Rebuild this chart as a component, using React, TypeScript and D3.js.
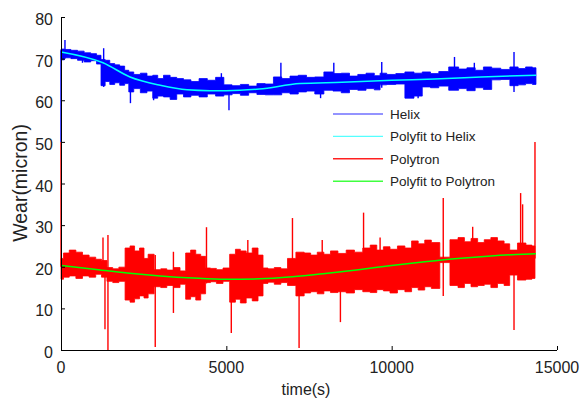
import React from 'react';
import * as d3 from 'd3';

const xTicks = [0, 5000, 10000, 15000];
const yTicks = [0, 10, 20, 30, 40, 50, 60, 70, 80];
const legendLabels = ['Helix', 'Polyfit to Helix', 'Polytron', 'Polyfit to Polytron'];
const seriesColors = ['#0000ff', '#00ffff', '#ff0000', '#00ff00'];
const legendColors = ['#6f6fff', '#55ffff', '#ff2020', '#40ff40'];

// Helix: noise envelope [time, low, high]
const helixBand = [
  [0, 69.7, 72.3], [200, 70.2, 72.2], [400, 70.0, 72.0], [600, 69.6, 71.8], [800, 69.2, 71.4],
  [1000, 69.5, 71.2], [1150, 68.7, 70.8], [1270, 63.5, 69.8], [1400, 64.5, 69.6], [1550, 63.8, 68.8],
  [1700, 64.2, 68.5], [1850, 63.6, 68.2], [2000, 64.0, 67.2], [2100, 62.0, 66.8], [2300, 62.8, 66.2],
  [2500, 61.8, 66.5], [2700, 62.2, 65.8], [2850, 60.5, 66.0], [3000, 61.0, 65.2], [3200, 60.8, 66.0],
  [3400, 60.2, 65.5], [3600, 61.5, 65.2], [3810, 60.8, 64.9], [4050, 61.2, 64.5], [4300, 60.8, 65.2],
  [4550, 61.5, 64.8], [4800, 61.0, 65.5], [5050, 61.3, 63.7], [5300, 61.6, 63.5], [5550, 61.2, 63.8],
  [5800, 61.8, 63.4], [6050, 61.4, 64.0], [6300, 61.3, 63.9], [6550, 61.3, 65.6], [6800, 61.8, 65.2],
  [7050, 61.5, 65.8], [7300, 62.0, 66.0], [7550, 62.2, 65.5], [7800, 61.5, 65.6], [8100, 62.4, 66.8],
  [8350, 62.2, 66.4], [8600, 61.8, 66.5], [8850, 62.6, 65.8], [9100, 62.4, 66.2], [9350, 62.8, 66.5],
  [9600, 62.5, 65.9], [9700, 63.7, 66.5], [10000, 63.8, 66.2], [10250, 63.9, 66.4], [10550, 60.5, 66.8],
  [10800, 61.0, 66.5], [11050, 63.2, 66.8], [11300, 63.0, 66.4], [11550, 63.4, 66.9], [11900, 62.4, 68.0],
  [12150, 62.8, 67.5], [12400, 62.3, 67.8], [12650, 63.0, 67.2], [12900, 62.6, 68.0], [13150, 64.9, 67.7],
  [13450, 65.0, 67.4], [13700, 63.5, 68.0], [13950, 63.7, 67.6], [14150, 64.0, 68.0], [14364, 63.8, 67.8],
];

// Helix: isolated spikes [time, low, high]
const helixSpikes = [
  [0, 50, 72], [120, 70, 74.5], [650, 69, 71], [1290, 63.2, 72.5], [2100, 59.3, 65],
  [2800, 60, 64], [4850, 62, 66.5], [5080, 57.6, 63], [6650, 63, 69], [7850, 60.5, 64],
  [8250, 63, 69], [9700, 63, 69.2], [10800, 60.5, 64], [11900, 62.5, 70.4], [12500, 64, 69],
  [13700, 62, 71.6],
];

const helixFit = [
  [0, 71.6], [1270, 69.0], [2087, 65.6], [3000, 63.6], [3810, 62.5], [4500, 62.3], [5000, 62.3],
  [6000, 62.7], [7230, 64.0], [8500, 64.3], [10000, 64.8], [11300, 65.1], [12700, 65.6], [14364, 66.0],
];

// Polytron: noise envelope [time, low, high]
const polytronBand = [
  [0, 17.0, 22.0], [150, 17.5, 23.3], [350, 17.8, 24.0], [550, 17.2, 23.5], [750, 17.8, 22.8],
  [950, 17.5, 22.3], [1150, 18.2, 21.8], [1300, 17.5, 21.5], [1480, 16.5, 19.8], [1650, 16.2, 19.5],
  [1850, 16.5, 19.9], [2026, 12.0, 24.5], [2150, 11.5, 25.0], [2300, 12.3, 23.8], [2450, 13.0, 24.5],
  [2570, 12.5, 22.0], [2700, 13.5, 23.0], [2933, 15.2, 19.3], [3100, 15.0, 19.5], [3300, 15.5, 19.2],
  [3500, 15.0, 19.8], [3700, 15.8, 19.0], [3840, 12.2, 23.3], [4000, 12.8, 24.0], [4150, 12.0, 23.0],
  [4300, 13.5, 22.5], [4445, 16.2, 19.7], [4600, 16.4, 19.6], [4800, 16.0, 19.3], [5000, 16.5, 19.7],
  [5201, 11.5, 23.0], [5350, 12.2, 24.2], [5500, 11.3, 23.8], [5700, 12.5, 23.3], [5867, 11.8, 24.5],
  [6050, 13.0, 22.8], [6169, 16.0, 19.7], [6350, 16.3, 19.5], [6550, 15.8, 19.8], [6750, 16.2, 19.5],
  [6950, 15.5, 22.0], [7258, 13.0, 23.5], [7450, 13.7, 23.3], [7650, 14.0, 22.8], [7850, 13.5, 23.5],
  [8050, 14.2, 23.0], [8250, 13.8, 23.8], [8500, 14.0, 23.2], [8750, 13.7, 24.0], [9000, 14.5, 23.5],
  [9253, 14.0, 24.5], [9450, 13.8, 25.2], [9650, 14.5, 24.0], [9850, 14.2, 24.8], [10050, 13.7, 24.2],
  [10300, 14.5, 25.0], [10500, 14.0, 24.5], [10705, 15.0, 26.2], [10900, 14.4, 25.5], [11100, 15.2, 26.4],
  [11300, 14.8, 25.8], [11612, 21.0, 22.3], [11914, 15.5, 26.5], [12100, 15.0, 27.0], [12300, 16.0, 26.0],
  [12500, 15.2, 26.8], [12700, 15.5, 25.8], [12900, 15.8, 26.5], [13100, 15.0, 27.0], [13300, 16.0, 26.2],
  [13500, 15.5, 25.5], [13638, 18.0, 24.0], [13971, 16.8, 25.7], [14150, 17.0, 25.2], [14334, 17.2, 25.0],
];

// Polytron: isolated spikes [time, low, high]
const polytronSpikes = [
  [0, 20, 50], [1270, 19, 27], [1330, 5, 20], [1420, 0, 27.6], [2850, 0.7, 22.8],
  [3400, 8.9, 23.6], [4400, 16, 29.5], [5150, 4.1, 18], [5650, 18, 26.4], [7000, 16, 31.7],
  [7200, 0.5, 18], [7900, 18, 26.4], [8450, 6.7, 16], [9150, 18, 33], [9650, 18, 27],
  [11560, 13, 36.5], [12450, 18, 29.6], [13700, 4.8, 18], [13900, 18, 37.7], [13960, 18, 35],
  [14334, 22, 50],
];

const polytronFit = [
  [0, 20.3], [1000, 19.4], [2000, 18.5], [3000, 17.8], [4000, 17.3], [5000, 17.0], [6000, 17.1],
  [7000, 17.6], [8000, 18.4], [9000, 19.3], [10000, 20.3], [11000, 21.2], [12000, 22.0],
  [13000, 22.6], [14000, 23.0], [14364, 23.1],
];

const W = 581;
const H = 403;
const font = "'Liberation Sans', Arial, sans-serif";

const App = () => {
  const x = d3.scaleLinear().domain([0, 15000]).range([61, 557]);
  const y = d3.scaleLinear().domain([0, 80]).range([350, 17]);

  const band = d3.area<number[]>()
    .x(d => x(d[0]))
    .y0(d => y(d[1]))
    .y1(d => y(d[2]))
    .curve(d3.curveStep);

  const fit = d3.line<number[]>()
    .x(d => x(d[0]))
    .y(d => y(d[1]))
    .curve(d3.curveMonotoneX);

  const spikes = (data: number[][], color: string) =>
    data.map((d, i) => (
      <line key={i} x1={x(d[0])} x2={x(d[0])} y1={y(d[1])} y2={y(d[2])}
        stroke={color} strokeWidth={1.4} />
    ));

  return (
    <svg width={W} height={H} style={{ position: 'fixed', left: 0, top: 0, background: '#fff' }}
      fontFamily={font}>
      {/* Helix */}
      <path d={band(helixBand) || ''} fill="#0000ff" stroke="#0000ff" strokeWidth={0.8} />
      {spikes(helixSpikes, '#0000ff')}
      <path d={fit(helixFit) || ''} fill="none" stroke={seriesColors[1]} strokeWidth={1.5} />

      {/* Polytron */}
      <path d={band(polytronBand) || ''} fill="#ff0000" stroke="#ff0000" strokeWidth={0.8} />
      {spikes(polytronSpikes, '#ff0000')}
      <path d={fit(polytronFit) || ''} fill="none" stroke={seriesColors[3]} strokeWidth={1.5} />

      {/* axes */}
      <line x1={61} x2={557} y1={350.5} y2={350.5} stroke="#000" />
      <line x1={61.5} x2={61.5} y1={17} y2={351} stroke="#000" />
      {xTicks.map(t => (
        <g key={t}>
          <line x1={x(t) + 0.5} x2={x(t) + 0.5} y1={350} y2={346} stroke="#000" />
          <text x={x(t)} y={373} fontSize={16} textAnchor="middle" fill="#222">{t}</text>
        </g>
      ))}
      {yTicks.map(t => (
        <g key={t}>
          <line x1={61} x2={65} y1={y(t) + 0.5} y2={y(t) + 0.5} stroke="#000" />
          <text x={53} y={y(t) + 8} fontSize={16} textAnchor="end" fill="#222">{t}</text>
        </g>
      ))}
      <text x={306} y={395} fontSize={16} textAnchor="middle" fill="#222">time(s)</text>
      <text transform="translate(27,183) rotate(-90)" fontSize={19.5} textAnchor="middle" fill="#222">
        Wear(micron)
      </text>

      {/* legend */}
      {legendLabels.map((label, i) => {
        const ly = 114 + i * 22.4;
        return (
          <g key={label}>
            <line x1={333} x2={383} y1={ly} y2={ly} stroke={legendColors[i]} strokeWidth={1.4} />
            <text x={390} y={ly + 5} fontSize={13.5} fill="#222">{label}</text>
          </g>
        );
      })}
    </svg>
  );
};

export default App;
